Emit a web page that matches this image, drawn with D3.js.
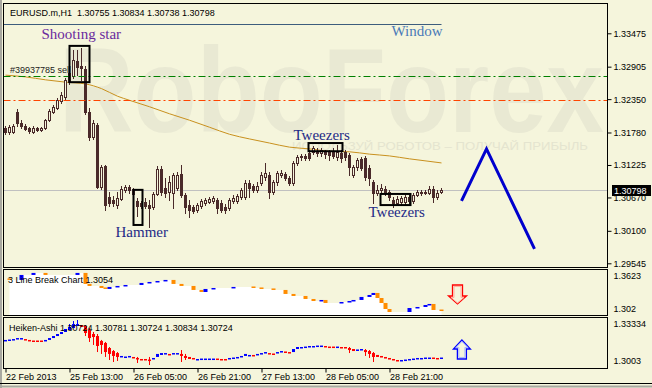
<!DOCTYPE html>
<html>
<head>
<meta charset="utf-8">
<script src="https://cdn.jsdelivr.net/npm/d3@7"></script>
<style>
    html, body { margin: 0; padding: 0; background: #f5f5dc; }
    svg { display: block; font-family: "Liberation Sans", Arial, sans-serif; }
</style>
</head>
<body>
<div class="chart"></div>
<script>
// EURUSD.m H1 candles
const opens = [1.3186,1.3179,1.3179,1.3213,1.3194,1.3189,1.3186,1.3179,1.3186,1.3182,
    1.3186,1.3199,1.3213,1.3220,1.3232,1.3239,1.3264,1.3275,1.3300,1.3292,
    1.3286,1.3213,1.3170,1.3191,1.3085,1.3121,1.3068,1.3063,1.3054,1.3064,
    1.3080,1.3085,1.3081,1.3061,1.3057,1.3059,1.3054,1.3051,1.3073,1.3116,
    1.3083,1.3076,1.3075,1.3083,1.3107,1.3071,1.3054,1.3051,1.3046,1.3052,
    1.3057,1.3059,1.3061,1.3063,1.3057,1.3051,1.3049,1.3061,1.3061,1.3068,
    1.3068,1.3092,1.3087,1.3080,1.3092,1.3102,1.3105,1.3076,1.3093,1.3105,
    1.3107,1.3100,1.3092,1.3126,1.3136,1.3138,1.3143,1.3145,1.3146,1.3143,
    1.3145,1.3145,1.3145,1.3136,1.3143,1.3145,1.3140,1.3105,1.3119,1.3133,
    1.3134,1.3117,1.3093,1.3075,1.3080,1.3081,1.3076,1.3063,1.3057,1.3059,
    1.3059,1.3068,1.3061,1.3071,1.3076,1.3075,1.3075,1.3081,1.3068,1.30755];
const highs = [1.3189,1.3191,1.3192,1.3218,1.3199,1.3192,1.3187,1.3189,1.3187,1.3187,
    1.3201,1.3218,1.3225,1.3237,1.3247,1.3271,1.3285,1.3319,1.3319,1.3322,
    1.3292,1.3220,1.3199,1.3194,1.3122,1.3122,1.3076,1.3069,1.3076,1.3087,
    1.3088,1.3088,1.3083,1.3066,1.3061,1.3066,1.3063,1.3076,1.3121,1.3121,
    1.3100,1.3104,1.3109,1.3110,1.3122,1.3075,1.3063,1.3054,1.3057,1.3064,
    1.3066,1.3068,1.3069,1.3066,1.3063,1.3056,1.3066,1.3071,1.3073,1.3083,
    1.3097,1.3097,1.3090,1.3093,1.3110,1.3126,1.3110,1.3097,1.3112,1.3114,
    1.3110,1.3104,1.3129,1.3140,1.3141,1.3141,1.3148,1.3155,1.3151,1.3151,
    1.3148,1.3148,1.3151,1.3157,1.3148,1.3148,1.3143,1.3122,1.3134,1.3136,
    1.3138,1.3122,1.3097,1.3088,1.3090,1.3087,1.3080,1.3068,1.3069,1.3069,
    1.3071,1.3071,1.3075,1.3080,1.3080,1.3080,1.3087,1.3087,1.3080,1.30834];
const lows = [1.3175,1.3175,1.3177,1.3189,1.3186,1.3182,1.3177,1.3177,1.3181,1.3181,
    1.3184,1.3198,1.3211,1.3218,1.3228,1.3233,1.3261,1.3271,1.3276,1.3268,
    1.3210,1.3165,1.3167,1.3083,1.3081,1.3046,1.3052,1.3052,1.3049,1.3063,
    1.3076,1.3075,1.3069,1.3035,1.3049,1.3049,1.3016,1.3047,1.3071,1.3071,
    1.3068,1.3063,1.3049,1.3080,1.3068,1.3040,1.3034,1.3040,1.3042,1.3049,
    1.3054,1.3057,1.3057,1.3040,1.3042,1.3040,1.3046,1.3057,1.3057,1.3064,
    1.3064,1.3068,1.3076,1.3076,1.3088,1.3097,1.3066,1.3073,1.3088,1.3102,
    1.3097,1.3088,1.3088,1.3122,1.3131,1.3131,1.3131,1.3141,1.3138,1.3138,
    1.3134,1.3131,1.3134,1.3131,1.3128,1.3131,1.3105,1.3102,1.3114,1.3114,
    1.3097,1.3088,1.3057,1.3071,1.3075,1.3071,1.3063,1.3051,1.3054,1.3056,
    1.3056,1.3057,1.3057,1.3069,1.3071,1.3073,1.3073,1.3059,1.3064,1.30738];
const closes = [1.3179,1.3187,1.3189,1.3194,1.3189,1.3184,1.3181,1.3186,1.3182,1.3186,
    1.3199,1.3215,1.3222,1.3233,1.3242,1.3268,1.3280,1.3302,1.3290,1.3288,
    1.3213,1.3170,1.3194,1.3085,1.3119,1.3054,1.3057,1.3057,1.3066,1.3081,
    1.3085,1.3080,1.3073,1.3052,1.3052,1.3052,1.3049,1.3073,1.3116,1.3076,
    1.3075,1.3093,1.3105,1.3105,1.3071,1.3051,1.3046,1.3044,1.3054,1.3061,
    1.3063,1.3064,1.3066,1.3049,1.3046,1.3046,1.3063,1.3066,1.3069,1.3080,
    1.3092,1.3083,1.3080,1.3087,1.3105,1.3109,1.3076,1.3093,1.3109,1.3109,
    1.3100,1.3092,1.3126,1.3136,1.3138,1.3134,1.3134,1.3151,1.3143,1.3148,
    1.3141,1.3140,1.3138,1.3145,1.3134,1.3136,1.3119,1.3119,1.3131,1.3117,
    1.3102,1.3100,1.3075,1.3080,1.3083,1.3075,1.3068,1.3057,1.3064,1.3066,
    1.3068,1.3061,1.3071,1.3076,1.3075,1.3076,1.3081,1.3068,1.3075,1.30798];

const priceTicks = [1.33475, 1.32905, 1.32350, 1.31780, 1.31225, 1.30670, 1.30100, 1.29545];
const dateIdx = [0, 16, 32, 48, 64, 80, 96];
const dateLabels = ["22 Feb 2013", "25 Feb 13:00", "26 Feb 05:00", "26 Feb 21:00", "27 Feb 13:00", "28 Feb 05:00", "28 Feb 21:00"];

// moving average, points
const maIdx = [0, 5, 10, 15, 20, 24, 28, 31, 36, 41, 46, 51, 56, 61, 66, 71, 76, 81, 86, 91, 96, 101, 109];
const maVals = [1.3276, 1.3273, 1.3268, 1.3264, 1.3261, 1.3253, 1.3240, 1.3233, 1.3222, 1.3210, 1.3199, 1.3187,
    1.3175, 1.3167, 1.3160, 1.3153, 1.3150, 1.3146, 1.3145, 1.3141, 1.3138, 1.3133, 1.3126];

const sellPrice = 1.3275;
const stopPrice = 1.3233;
const lastPrice = 1.30798;
const windowPrice = 1.3364;

// pattern boxes
const boxStart = [16, 32, 75.75, 93.75];
const boxEnd = [21, 34.25, 84.25, 101.25];
const boxTop = [1.3326, 1.3080, 1.3160, 1.3073];
const boxBottom = [1.3264, 1.3020, 1.3146, 1.3054];

const noteText = ["Shooting star", "Hammer", "Tweezers", "Tweezers", "Window"];
const noteIdx = [9, 27.5, 72, 90.75, 96.5];
const notePrice = [1.3338, 1.2999, 1.3166, 1.3033, 1.3343];

// forecast zigzag
const forecastIdx = [114, 120.25, 132.25];
const forecastVals = [1.3061, 1.3150, 1.2979];

// 3 line break
const lbTicks = [1.3623, 1.302];
const lbIdx = [1, 4, 7, 10, 18, 20, 21, 24, 25, 26, 28, 30, 34, 36, 38, 40, 42, 44, 47, 49, 50, 52, 57, 62,
    64, 67, 70, 72, 75, 77, 79, 80, 84, 86, 87, 89, 91, 92, 93, 94, 95, 96, 101, 103, 105, 106, 107, 109];
const lbVals = [1.3551, 1.3642, 1.3679, 1.3642, 1.3679, 1.3478, 1.3441, 1.3404, 1.3386, 1.3423, 1.3441, 1.3459,
    1.3496, 1.3514, 1.3532, 1.3551, 1.3478, 1.3441, 1.3368, 1.3331, 1.3386, 1.3404, 1.3423, 1.3404,
    1.3386, 1.3368, 1.3295, 1.3258, 1.3203, 1.3166, 1.3185, 1.3130, 1.3148, 1.3166, 1.3185, 1.3240,
    1.3276, 1.3313, 1.3221, 1.3130, 1.3020, 1.2965, 1.3038, 1.3057, 1.3093, 1.3112, 1.3002, 1.2983];

// heiken-ashi
const haTicks = [1.33334, 1.3003];
const haOpen = [1.3182,1.3191,1.3191,1.3199,1.3204,1.3199,1.3191,1.3186,1.3186,1.3186,
    1.3182,1.3191,1.3208,1.3226,1.3244,1.3262,1.3280,1.3298,1.3316,1.3324,
    1.3316,1.3280,1.3244,1.3226,1.3182,1.3164,1.3119,1.3092,1.3074,1.3039,
    1.3039,1.3039,1.3039,1.3030,1.3021,1.3021,1.3016,1.3021,1.3039,1.3057,
    1.3066,1.3066,1.3066,1.3070,1.3066,1.3048,1.3039,1.3030,1.3016,1.3021,
    1.3021,1.3021,1.3021,1.3025,1.3021,1.3021,1.3021,1.3030,1.3030,1.3039,
    1.3048,1.3052,1.3057,1.3057,1.3066,1.3074,1.3074,1.3070,1.3074,1.3083,
    1.3088,1.3083,1.3083,1.3110,1.3119,1.3128,1.3128,1.3132,1.3137,1.3137,
    1.3137,1.3132,1.3132,1.3128,1.3128,1.3128,1.3119,1.3110,1.3101,1.3101,
    1.3101,1.3092,1.3074,1.3057,1.3048,1.3039,1.3030,1.3021,1.3012,1.3008,
    1.3012,1.3016,1.3021,1.3025,1.3025,1.3030,1.3030,1.3034,1.3030,1.3030];
const haClose = [1.3191,1.3195,1.3199,1.3208,1.3208,1.3191,1.3182,1.3182,1.3182,1.3182,
    1.3191,1.3208,1.3226,1.3244,1.3262,1.3289,1.3307,1.3333,1.3333,1.3307,
    1.3253,1.3208,1.3217,1.3137,1.3146,1.3083,1.3066,1.3048,1.3039,1.3048,
    1.3043,1.3048,1.3030,1.3021,1.3012,1.3012,1.3012,1.3030,1.3066,1.3074,
    1.3074,1.3057,1.3074,1.3074,1.3048,1.3030,1.3021,1.3021,1.3021,1.3025,
    1.3025,1.3025,1.3025,1.3021,1.3016,1.3016,1.3030,1.3034,1.3039,1.3048,
    1.3066,1.3057,1.3048,1.3066,1.3074,1.3083,1.3066,1.3066,1.3083,1.3092,
    1.3083,1.3074,1.3110,1.3128,1.3128,1.3132,1.3137,1.3137,1.3141,1.3141,
    1.3132,1.3128,1.3128,1.3132,1.3124,1.3119,1.3101,1.3092,1.3106,1.3110,
    1.3083,1.3066,1.3039,1.3039,1.3034,1.3025,1.3016,1.3008,1.3008,1.3012,
    1.3016,1.3021,1.3025,1.3030,1.3030,1.3034,1.3034,1.3025,1.3025,1.3034];
const haWickIdx = [16, 17, 18, 20, 21, 22, 23, 24, 25, 26, 27, 28, 33, 36, 44, 45, 86, 90, 91, 92];
const haWickHigh = [1.3333, 1.3360, 1.3369, 1.3324, 1.3298, 1.3262, 1.3244, 1.3191, 1.3173, 1.3128,
    1.3101, 1.3083, 1.3039, 1.3039, 1.3101, 1.3066, 1.3128, 1.3110, 1.3101, 1.3083];
const haWickLow = [1.3280, 1.3316, 1.3316, 1.3226, 1.3173, 1.3146, 1.3083, 1.3066, 1.3039, 1.3012,
    1.2994, 1.3003, 1.2985, 1.2967, 1.2994, 1.3012, 1.3074, 1.3048, 1.3030, 1.2994];

const width = 652;
const height = 388;
const bg = "#f5f5dc";
const candleColor = "#4a2a2a";

const frame = {
    left: 3.5,
    right: 607.5,
    mainTop: 3.5,
    mainBottom: 267.5,
    lbTop: 269.5,
    lbBottom: 315.5,
    haTop: 317.5,
    haBottom: 368.5
};

let x = d3.scaleLinear().domain([0, 109]).range([5.5, 441.5]);
let yMain = d3.scaleLinear().domain([1.29545, 1.33475]).range([263.3, 33.3]);
let yLb = d3.scaleLinear().domain([1.302, 1.3623]).range([309, 276]);
let yHa = d3.scaleLinear().domain([1.3003, 1.33334]).range([361, 324]);

let svg = d3.select(".chart")
    .append("svg")
    .attr("width", width)
    .attr("height", height);

svg.append("rect").attr("width", width).attr("height", height).attr("fill", bg);

svg.append("clipPath").attr("id", "main-clip")
    .append("rect")
    .attr("x", frame.left).attr("y", frame.mainTop)
    .attr("width", frame.right - frame.left).attr("height", frame.mainBottom - frame.mainTop);

let main = svg.append("g").attr("clip-path", "url(#main-clip)");

// watermark
main.append("text")
    .text("RoboForex")
    .attr("x", 59).attr("y", 132)
    .attr("font-size", 120).attr("font-weight", "bold")
    .attr("textLength", 545).attr("lengthAdjust", "spacingAndGlyphs")
    .attr("fill", "#e9e9d3");

main.append("text")
    .text("ИСПОЛЬЗУЙ РОБОТОВ – ПОЛУЧАЙ ПРИБЫЛЬ")
    .attr("x", 292).attr("y", 150)
    .attr("font-size", 11)
    .attr("textLength", 296).attr("lengthAdjust", "spacingAndGlyphs")
    .attr("fill", "#e4e4cf");

// price lines
main.append("line")
    .attr("x1", frame.left).attr("x2", frame.right)
    .attr("y1", Math.round(yMain(lastPrice)) + 0.5).attr("y2", Math.round(yMain(lastPrice)) + 0.5)
    .attr("stroke", "#c0c0c0");

main.append("line")
    .attr("x1", x(0) - 2).attr("x2", x(109))
    .attr("y1", Math.round(yMain(windowPrice)) + 0.5).attr("y2", Math.round(yMain(windowPrice)) + 0.5)
    .attr("stroke", "#3d5d7d");

// moving average
main.append("path")
    .datum(d3.zip(maIdx, maVals))
    .attr("fill", "none")
    .attr("stroke", "#c8901e")
    .attr("d", d3.line().x(d => x(d[0])).y(d => yMain(d[1])).curve(d3.curveMonotoneX));

// candles
let candles = main.append("g")
    .selectAll("g")
    .data(d3.range(opens.length))
    .join("g");

candles.append("line")
    .attr("x1", i => x(i)).attr("x2", i => x(i))
    .attr("y1", i => Math.round(yMain(highs[i])))
    .attr("y2", i => Math.round(yMain(lows[i])) + 1)
    .attr("stroke", candleColor);

candles.filter(i => closes[i] < opens[i])
    .append("rect")
    .attr("x", i => x(i) - 1.5)
    .attr("width", 3)
    .attr("y", i => Math.round(yMain(opens[i])))
    .attr("height", i => Math.max(1, Math.round(yMain(closes[i])) - Math.round(yMain(opens[i])) + 1))
    .attr("fill", candleColor);

candles.filter(i => closes[i] >= opens[i])
    .append("rect")
    .attr("x", i => x(i) - 1)
    .attr("width", 2)
    .attr("y", i => Math.round(yMain(closes[i])) + 0.5)
    .attr("height", i => Math.max(0.5, Math.round(yMain(opens[i])) - Math.round(yMain(closes[i]))))
    .attr("fill", bg)
    .attr("stroke", candleColor);

// order lines
main.append("line")
    .attr("x1", frame.left).attr("x2", frame.right)
    .attr("y1", Math.round(yMain(sellPrice)) + 0.5).attr("y2", Math.round(yMain(sellPrice)) + 0.5)
    .attr("stroke", "#008000").attr("stroke-dasharray", "7,3,2,3");

main.append("line")
    .attr("x1", frame.left).attr("x2", frame.right)
    .attr("y1", Math.round(yMain(stopPrice)) + 0.5).attr("y2", Math.round(yMain(stopPrice)) + 0.5)
    .attr("stroke", "#ff4500").attr("stroke-dasharray", "7,3,2,3");

main.append("text")
    .text("#39937785 sell")
    .attr("x", 10).attr("y", Math.round(yMain(sellPrice)) - 3)
    .attr("font-size", 9).attr("fill", "#1a1a1a");

// pattern boxes
main.append("g")
    .selectAll("rect")
    .data(d3.range(boxStart.length))
    .join("rect")
    .attr("x", i => x(boxStart[i]))
    .attr("y", i => yMain(boxTop[i]))
    .attr("width", i => x(boxEnd[i]) - x(boxStart[i]))
    .attr("height", i => yMain(boxBottom[i]) - yMain(boxTop[i]))
    .attr("fill", "none")
    .attr("stroke", "#000")
    .attr("stroke-width", 2);

const noteColors = ["#6a2a9e", "#1e2a86", "#1e2a86", "#1e2a86", "#4a7ab8"];

main.append("g")
    .selectAll("text")
    .data(d3.range(noteText.length))
    .join("text")
    .text(i => noteText[i])
    .attr("x", i => x(noteIdx[i]))
    .attr("y", i => yMain(notePrice[i]))
    .attr("font-family", "'Liberation Serif', 'Times New Roman', serif")
    .attr("font-size", 15)
    .attr("fill", i => noteColors[i]);

main.append("path")
    .datum(d3.zip(forecastIdx, forecastVals))
    .attr("fill", "none")
    .attr("stroke", "#0000cd")
    .attr("stroke-width", 3)
    .attr("d", d3.line().x(d => x(d[0])).y(d => yMain(d[1])));

// header
svg.append("text")
    .text(`EURUSD.m,H1  ${opens[109].toFixed(5)} ${highs[109].toFixed(5)} ${lows[109].toFixed(5)} ${closes[109].toFixed(5)}`)
    .attr("x", 10).attr("y", 16)
    .attr("font-size", 9).attr("fill", "#000")
    .style("white-space", "pre");

// 3 line break panel
let lbPoints = d3.zip(lbIdx, lbVals);

svg.append("path")
    .datum(lbPoints)
    .attr("fill", "#ffffff")
    .attr("d", d3.area()
        .x(d => x(d[0]))
        .y0(frame.lbBottom)
        .y1(d => yLb(d[1]))
        .curve(d3.curveStepAfter));

svg.append("g")
    .selectAll("rect")
    .data(d3.range(lbIdx.length))
    .join("rect")
    .attr("x", k => x(lbIdx[k]) - 2)
    .attr("width", 4)
    .attr("y", k => {
        const prev = k > 0 ? lbVals[k - 1] : lbVals[k];
        const top = yLb(Math.max(prev, lbVals[k]));
        return k > 0 && lbVals[k] > prev ? top : Math.min(top, yLb(lbVals[k]) - 1.5);
    })
    .attr("height", k => {
        const prev = k > 0 ? lbVals[k - 1] : lbVals[k];
        return Math.max(1.5, Math.abs(yLb(prev) - yLb(lbVals[k])));
    })
    .attr("fill", k => k > 0 && lbVals[k] > lbVals[k - 1] ? "#0000ff" : "#ff8c00");

svg.append("text")
    .text("3 Line Break Chart 1.3054")
    .attr("x", 8).attr("y", 283)
    .attr("font-size", 9).attr("fill", "#000");

// heiken-ashi panel
svg.append("g")
    .selectAll("line")
    .data(d3.range(haWickIdx.length))
    .join("line")
    .attr("x1", k => x(haWickIdx[k])).attr("x2", k => x(haWickIdx[k]))
    .attr("y1", k => yHa(haWickHigh[k])).attr("y2", k => yHa(haWickLow[k]))
    .attr("stroke", k => haClose[haWickIdx[k]] >= haOpen[haWickIdx[k]] ? "#0000ff" : "#ff0000");

svg.append("g")
    .selectAll("rect")
    .data(d3.range(haOpen.length))
    .join("rect")
    .attr("x", i => x(i) - 1.5)
    .attr("width", 3)
    .attr("y", i => Math.min(yHa(haOpen[i]), yHa(haClose[i])))
    .attr("height", i => Math.max(1.5, Math.abs(yHa(haOpen[i]) - yHa(haClose[i]))))
    .attr("fill", i => haClose[i] >= haOpen[i] ? "#0000ff" : "#ff0000");

svg.append("text")
    .text("Heiken-Ashi 1.30724 1.30781 1.30724 1.30834 1.30724")
    .attr("x", 9).attr("y", 331)
    .attr("font-size", 9).attr("fill", "#000");

// signal arrows
const downX = x(113);
const downY = yLb(1.3459);
svg.append("path")
    .attr("d", `M${downX - 5},${downY} h10 v11 h4 l-9,8 l-9,-8 h4 z`)
    .attr("fill", "none").attr("stroke", "#ff0000").attr("stroke-width", 1.3);
svg.append("path")
    .attr("d", `M${downX - 3.5},${downY + 1.5} h7 v11 h3 l-6.5,5.5 l-6.5,-5.5 h3 z`)
    .attr("fill", "none").attr("stroke", "#ffb0a0").attr("stroke-width", 1);

const upX = x(114.1);
const upY = yHa(1.3021);
svg.append("path")
    .attr("d", `M${upX - 4.5},${upY} v-10 h-4 l8.5,-9 l8.5,9 h-4 v10 z`)
    .attr("fill", "none").attr("stroke", "#0000ff").attr("stroke-width", 1.3);
svg.append("path")
    .attr("d", `M${upX - 3},${upY - 1.5} v-10 h-3 l6,-6 l6,6 h-3 v10 z`)
    .attr("fill", "none").attr("stroke", "#a8b8ff").attr("stroke-width", 1);

// frames
[[frame.mainTop, frame.mainBottom], [frame.lbTop, frame.lbBottom], [frame.haTop, frame.haBottom]].forEach(p => {
    svg.append("rect")
        .attr("x", frame.left).attr("y", p[0])
        .attr("width", frame.right - frame.left).attr("height", p[1] - p[0])
        .attr("fill", "none").attr("stroke", "#000");
});

svg.append("rect").attr("x", 0).attr("y", 0).attr("width", 2).attr("height", height).attr("fill", "#a8a8a0");
svg.append("line").attr("x1", 0).attr("x2", width).attr("y1", 383.5).attr("y2", 383.5).attr("stroke", "#000");
svg.append("line").attr("x1", 0).attr("x2", width).attr("y1", 386.5).attr("y2", 386.5).attr("stroke", "#a8a8a0").attr("stroke-width", 2);

// axes
function styleAxis(g) {
    g.select(".domain").remove();
    g.selectAll(".tick line").attr("stroke", "#000");
    g.selectAll(".tick text").attr("fill", "#000").attr("font-size", 9)
        .attr("font-family", "'Liberation Sans', Arial, sans-serif");
}

svg.append("g")
    .attr("transform", `translate(${frame.right},0)`)
    .call(d3.axisRight(yMain).tickValues(priceTicks).tickSize(4).tickPadding(2).tickFormat(d3.format(".5f")))
    .call(styleAxis);

svg.append("g")
    .attr("transform", `translate(${frame.right},0)`)
    .call(d3.axisRight(yLb).tickValues(lbTicks).tickSize(0).tickPadding(6).tickFormat(d => String(d)))
    .call(styleAxis);

svg.append("g")
    .attr("transform", `translate(${frame.right},0)`)
    .call(d3.axisRight(yHa).tickValues(haTicks).tickSize(0).tickPadding(6).tickFormat(d => String(d)))
    .call(styleAxis);

svg.append("g")
    .attr("transform", `translate(0,${frame.haBottom})`)
    .call(d3.axisBottom(x).tickValues(dateIdx).tickSize(4).tickPadding(1).tickFormat((d, i) => dateLabels[i]))
    .call(styleAxis)
    .call(g => g.selectAll(".tick text").attr("text-anchor", "start").attr("x", 0));

// last price label
svg.append("rect")
    .attr("x", 612).attr("y", Math.round(yMain(lastPrice)) - 5)
    .attr("width", 39).attr("height", 11)
    .attr("fill", "#000");
svg.append("text")
    .text(lastPrice.toFixed(5))
    .attr("x", 614).attr("y", Math.round(yMain(lastPrice)) + 3.5)
    .attr("font-size", 9).attr("fill", "#fff");
</script>
</body>
</html>
